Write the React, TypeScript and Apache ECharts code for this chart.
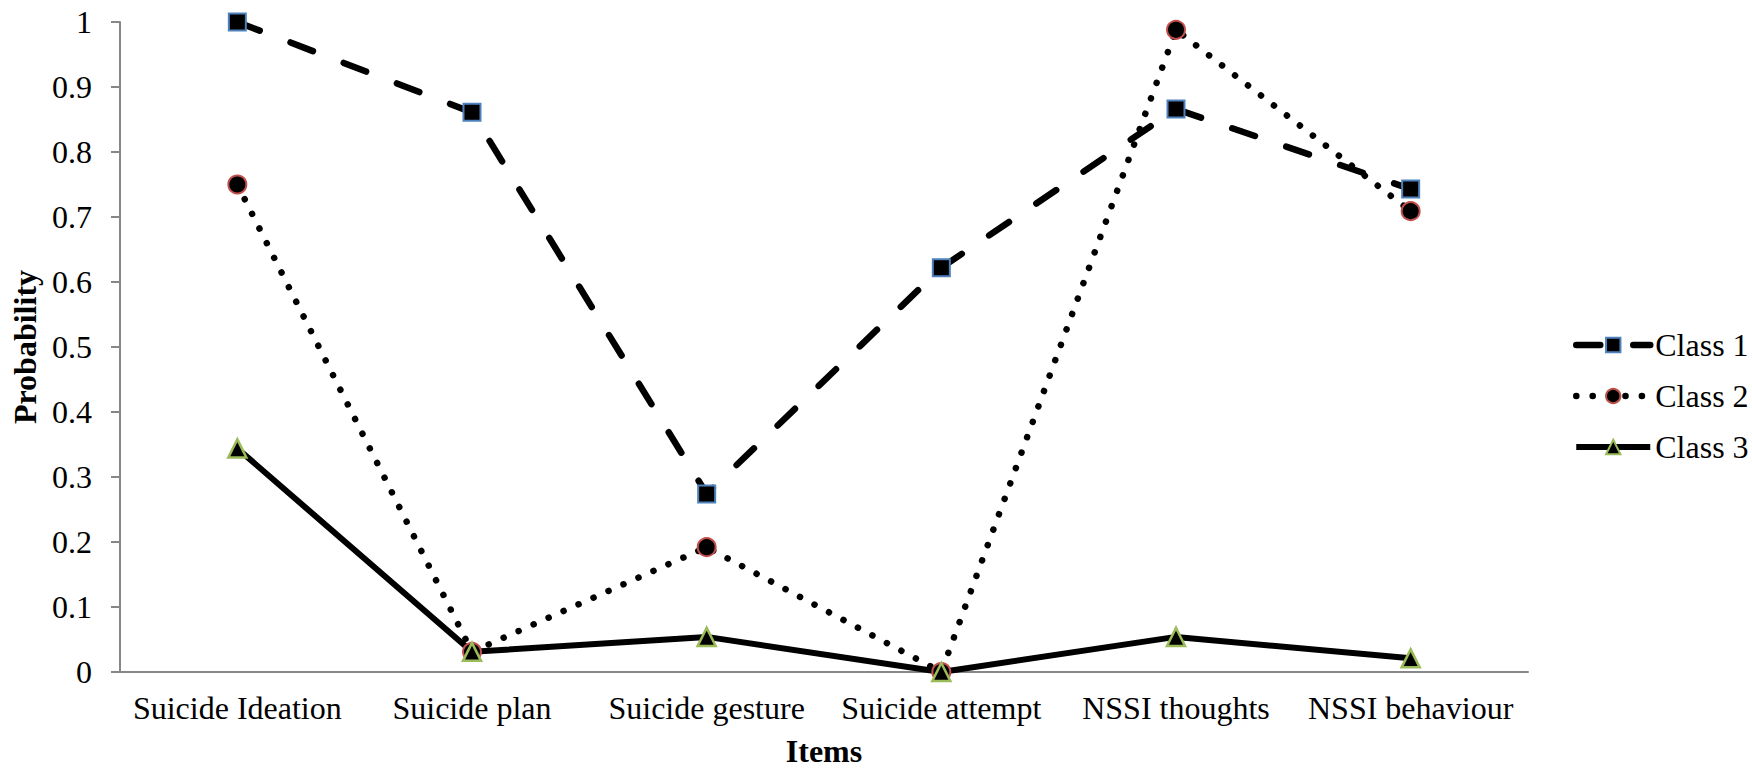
import React, { useEffect, useRef } from "react";
import * as echarts from "echarts";

const categories = [
  "Suicide Ideation",
  "Suicide plan",
  "Suicide gesture",
  "Suicide attempt",
  "NSSI thoughts",
  "NSSI behaviour",
];
const class1 = [1.0, 0.861, 0.274, 0.622, 0.866, 0.743];
const class2 = [0.75, 0.031, 0.192, 0.0, 0.988, 0.709];
const class3 = [0.344, 0.031, 0.054, 0.0, 0.054, 0.021];
const seriesNames = ["Class 1", "Class 2", "Class 3"];
const yMin = 0;
const yMax = 1;
const yStep = 0.1;

const FONT = "'Liberation Serif', 'Times New Roman', serif";

export default function App() {
  const ref = useRef<HTMLDivElement>(null);
  useEffect(() => {
    if (!ref.current) return;
    const chart = echarts.init(ref.current, null, { renderer: "svg" });
    const axisGray = "#878787";
    const dash1 = [24, 33];
    const dot2 = [0.1, 16.3];
    chart.setOption({
      animation: false,
      backgroundColor: "#ffffff",
      textStyle: { fontFamily: FONT, color: "#000" },
      grid: {
        left: 120,
        right: 224,
        top: 22,
        bottom: 98,
        containLabel: false,
        outerBoundsMode: "none",
      },
      legend: {
        orient: "vertical",
        left: 1568,
        top: 324,
        itemWidth: 74,
        itemHeight: 18,
        itemGap: 19,
        textStyle: { fontFamily: FONT, fontSize: 32, color: "#000", lineHeight: 32 },
        data: [
          { name: seriesNames[0], lineStyle: { width: 6.5, type: dash1, cap: "round", color: "#000" } },
          { name: seriesNames[1], lineStyle: { width: 6.5, type: dot2, cap: "round", color: "#000" } },
          { name: seriesNames[2], lineStyle: { width: 6, type: "solid", color: "#000" } },
        ],
      },
      xAxis: {
        type: "category",
        data: categories,
        boundaryGap: true,
        axisLine: { show: true, lineStyle: { color: axisGray, width: 2 } },
        axisTick: { show: false },
        axisLabel: { fontFamily: FONT, fontSize: 32, color: "#000", margin: 20, interval: 0 },
        name: "Items",
        nameLocation: "middle",
        nameGap: 63,
        nameTextStyle: {
          fontFamily: FONT,
          fontSize: 32,
          fontWeight: "bold",
          color: "#000",
          lineHeight: 32,
        },
        splitLine: { show: false },
      },
      yAxis: {
        type: "value",
        min: yMin,
        max: yMax,
        interval: yStep,
        axisLine: { show: true, lineStyle: { color: axisGray, width: 2 } },
        axisTick: { show: true, inside: false, length: 9, lineStyle: { color: axisGray, width: 2 } },
        axisLabel: {
          fontFamily: FONT,
          fontSize: 32,
          color: "#000",
          margin: 28,
          formatter: (v: number) => String(Math.round(v * 10) / 10),
        },
        splitLine: { show: false },
        name: "Probability",
        nameLocation: "middle",
        nameGap: 79,
        nameRotate: 90,
        nameTextStyle: { fontFamily: FONT, fontSize: 32, fontWeight: "bold", color: "#000" },
      },
      series: [
        {
          name: seriesNames[0],
          type: "line",
          data: class1,
          symbol: "rect",
          symbolSize: 17,
          itemStyle: { color: "#000", borderColor: "#4f81bd", borderWidth: 2 },
          lineStyle: { color: "#000", width: 6.5, type: dash1, cap: "round" },
          z: 3,
        },
        {
          name: seriesNames[1],
          type: "line",
          data: class2,
          symbol: "circle",
          symbolSize: 18,
          itemStyle: { color: "#000", borderColor: "#c0504d", borderWidth: 2 },
          lineStyle: { color: "#000", width: 6.5, type: dot2, cap: "round" },
          z: 2,
        },
        {
          name: seriesNames[2],
          type: "line",
          data: class3,
          symbol: "triangle",
          symbolSize: 18,
          itemStyle: { color: "#000", borderColor: "#9bbb59", borderWidth: 2.5 },
          lineStyle: { color: "#000", width: 6 },
          z: 2,
        },
      ],
    });
    return () => chart.dispose();
  }, []);
  return (
    <div
      ref={ref}
      style={{ position: "absolute", left: 0, top: 0, width: 1752, height: 770 }}
    />
  );
}
